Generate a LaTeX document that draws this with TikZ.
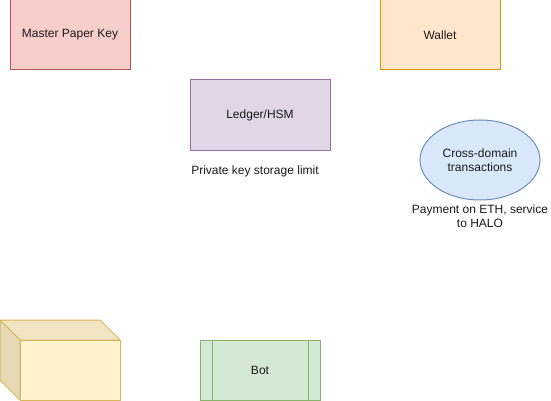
\documentclass[tikz,border=0pt]{standalone}
\usepackage{fontspec}
\setmainfont{Liberation Sans}
\usetikzlibrary{shapes.geometric}

\definecolor{redfill}{HTML}{F8CECC}
\definecolor{reddraw}{HTML}{B85450}
\definecolor{orangefill}{HTML}{FFE6CC}
\definecolor{orangedraw}{HTML}{D79B00}
\definecolor{purplefill}{HTML}{E1D5E7}
\definecolor{purpledraw}{HTML}{9673A6}
\definecolor{bluefill}{HTML}{DAE8FC}
\definecolor{bluedraw}{HTML}{6C8EBF}
\definecolor{greenfill}{HTML}{D5E8D4}
\definecolor{greendraw}{HTML}{82B366}
\definecolor{yellowfill}{HTML}{FFF2CC}
\definecolor{yellowtop}{HTML}{F1E4C2}
\definecolor{yellowside}{HTML}{E5D9B6}
\definecolor{yellowdraw}{HTML}{D6B656}
\definecolor{textgrey}{HTML}{1A1A1A}

\tikzset{
	box/.style = {rectangle, line width = 1pt, inner sep = 0pt, outer sep = 0pt, font = \fontsize{12}{14}\selectfont, text = textgrey},
	plain/.style = {inner sep = 0pt, align = center, font = \fontsize{12}{14}\selectfont, text = textgrey}
}

\begin{document}
\begin{tikzpicture}[x = 1pt, y = -1pt]
			\useasboundingbox (0,0) rectangle (551,401);

			\begin{scope}
				\node [box, draw = reddraw, fill = redfill, minimum width = 120pt, minimum height = 70pt] (masterkey) at (70,35) {Master Paper Key};
				\node [box, draw = orangedraw, fill = orangefill, minimum width = 120pt, minimum height = 70pt] (wallet) at (440,35) {Wallet};
				\node [box, draw = purpledraw, fill = purplefill, minimum width = 140pt, minimum height = 70pt] (ledger) at (260,115) {Ledger/HSM};
				\node [box, ellipse, draw = bluedraw, fill = bluefill, minimum width = 120pt, minimum height = 80pt, align = center] (crossdomain) at (480,160) {Cross-domain\\transactions};
			\end{scope}

			\begin{scope}
				\node [plain] (storagelimit) at (255,171) {Private key storage limit};
				\node [plain, below = 5pt] (payment) at (crossdomain.south) {Payment on ETH, service\\to HALO};
			\end{scope}

			\begin{scope}[line width = 1pt, draw = yellowdraw, line join = round]
				\filldraw [fill = yellowfill] (20,340) rectangle (120,400);
				\filldraw [fill = yellowtop] (0,320) -- (100,320) -- (120,340) -- (20,340) -- cycle;
				\filldraw [fill = yellowside] (0,320) -- (20,340) -- (20,400) -- (0,380) -- cycle;
			\end{scope}

			\begin{scope}
				\node [box, draw = greendraw, fill = greenfill, minimum width = 120pt, minimum height = 60pt] (bot) at (260,370) {Bot};
				\draw [line width = 1pt, greendraw] ([xshift = 12pt]bot.north west) -- ([xshift = 12pt]bot.south west);
				\draw [line width = 1pt, greendraw] ([xshift = -12pt]bot.north east) -- ([xshift = -12pt]bot.south east);
			\end{scope}
		\end{tikzpicture}
\end{document}
